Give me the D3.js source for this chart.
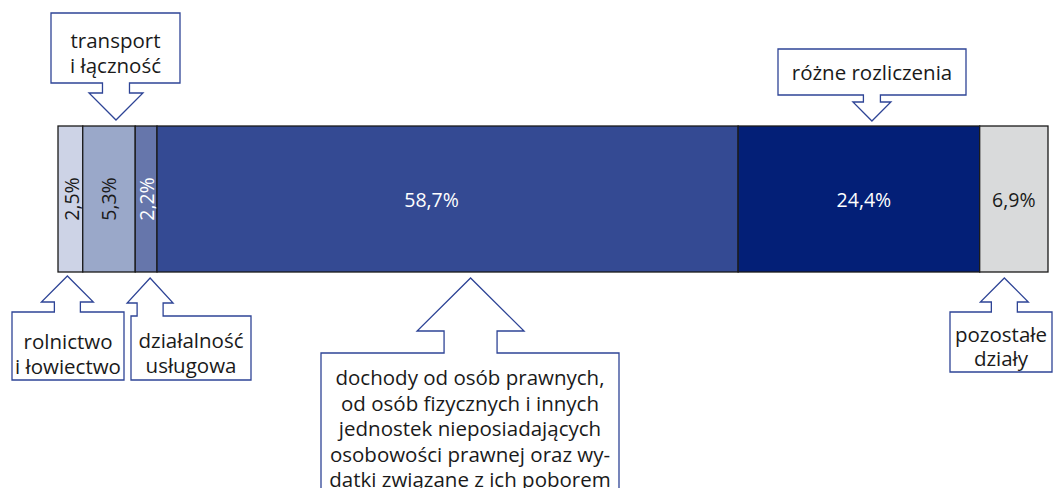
<!DOCTYPE html>
<html>
<head>
  <meta charset="utf-8">
  <title>Struktura dochodów</title>
  <script src="https://d3js.org/d3.v7.min.js"></script>
  <style>
    body { margin: 0; background: #fff; }
    svg { display: block; font-family: "Open Sans", sans-serif; }
    .seg rect { stroke: #1a1a1a; stroke-width: 1.3px; }
    .callout path { fill: #fff; stroke: #2e4496; stroke-width: 1.3px; }
    .callout text { fill: #1a1a1a; font-size: 20.5px; text-anchor: middle; }
    .val { font-size: 19.5px; text-anchor: middle; dominant-baseline: central; }
  </style>
</head>
<body>
  <svg width="1054" height="488"></svg>
  <script>
    // data
    const categories = [
      "rolnictwo i łowiectwo",
      "transport i łączność",
      "działalność usługowa",
      "dochody od osób prawnych, od osób fizycznych i innych jednostek nieposiadających osobowości prawnej oraz wydatki związane z ich poborem",
      "różne rozliczenia",
      "pozostałe działy"
    ];
    const shares = [2.5, 5.3, 2.2, 58.7, 24.4, 6.9];
    const calloutLines = [
      ["rolnictwo", "i łowiectwo"],
      ["transport", "i łączność"],
      ["działalność", "usługowa"],
      ["dochody od osób prawnych,", "od osób fizycznych i innych", "jednostek nieposiadających", "osobowości prawnej oraz wy-", "datki związane z ich poborem"],
      ["różne rozliczenia"],
      ["pozostałe", "działy"]
    ];

    const colors = ["#cdd3e6", "#9aa8c9", "#6676ab", "#344a93", "#031f77", "#d9dadb"];
    const textColors = ["#1a1a1a", "#1a1a1a", "#fff", "#fff", "#fff", "#1a1a1a"];
    const rotated = [true, true, true, false, false, false];
    const labelDx = [1, 0, 0, -16, 5, 0];

    // callout layout: box, arrow tip offset from segment centre, arrow sizes
    const layout = [
      { box: [12, 124, 312, 380], dx: -3,  tipY: 276, headY: 302, hw: 26, sw: 13, y0: 349, lh: 25 },
      { box: [51, 180, 13, 83],   dx: 7,   tipY: 120, headY: 93,  hw: 27, sw: 13.5, y0: 48, lh: 25 },
      { box: [131, 251, 316, 380], dx: 4,  tipY: 278, headY: 303, hw: 23, sw: 13, y0: 348, lh: 25 },
      { box: [321, 619, 353, 500], dx: 23, tipY: 278, headY: 331, hw: 53.5, sw: 26.5, y0: 385, lh: 25.5 },
      { box: [778, 966, 49, 95],  dx: 13,  tipY: 121, headY: 102, hw: 19, sw: 8.5, y0: 80, lh: 25 },
      { box: [950, 1052, 312, 372], dx: -9.5, tipY: 278, headY: 302, hw: 24, sw: 13, y0: 342, lh: 23.5 }
    ];

    const svg = d3.select("svg");
    const pl = d3.formatLocale({ decimal: ",", thousands: " ", grouping: [3], currency: ["", " zł"] });
    const fmt = v => pl.format(".1f")(v) + "%";

    const rows = shares.map((v, i) => ({ i, v, cat: categories[i] }));
    let acc = 0;
    rows.forEach(d => { d.start = acc; acc += d.v; d.end = acc; });

    const x = d3.scaleLinear().domain([0, 100]).range([58, 1048]);
    const y = d3.scaleBand().domain(["2019"]).range([126, 272]).padding(0);

    const seg = svg.append("g").selectAll("g.seg")
      .data(rows).join("g").attr("class", "seg");

    seg.append("rect")
      .attr("x", d => x(d.start))
      .attr("y", y("2019"))
      .attr("width", d => x(d.end) - x(d.start))
      .attr("height", y.bandwidth())
      .attr("fill", d => colors[d.i]);

    seg.append("text")
      .attr("class", "val")
      .attr("transform", d => {
        const cx = (x(d.start) + x(d.end)) / 2 + labelDx[d.i];
        const cy = y("2019") + y.bandwidth() / 2;
        return `translate(${cx},${cy})` + (rotated[d.i] ? " rotate(-90)" : "");
      })
      .attr("fill", d => textColors[d.i])
      .text(d => fmt(d.v));

    // callouts
    const barMid = y("2019") + y.bandwidth() / 2;
    const co = svg.append("g").selectAll("g.callout")
      .data(rows).join("g").attr("class", "callout");

    co.append("path").attr("d", d => {
      const L = layout[d.i];
      const cx = (x(d.start) + x(d.end)) / 2 + L.dx;
      const [x0, x1, by0, by1] = L.box;
      const above = by1 < barMid;
      const near = above ? by1 : by0;
      const far = above ? by0 : by1;
      const p = d3.path();
      p.moveTo(x0, far);
      p.lineTo(x1, far);
      p.lineTo(x1, near);
      p.lineTo(cx + L.sw, near);
      p.lineTo(cx + L.sw, L.headY);
      p.lineTo(cx + L.hw, L.headY);
      p.lineTo(cx, L.tipY);
      p.lineTo(cx - L.hw, L.headY);
      p.lineTo(cx - L.sw, L.headY);
      p.lineTo(cx - L.sw, near);
      p.lineTo(x0, near);
      p.closePath();
      return p.toString();
    });

    co.each(function(d) {
      const L = layout[d.i];
      const cx = (L.box[0] + L.box[1]) / 2;
      d3.select(this).selectAll("text")
        .data(calloutLines[d.i]).join("text")
        .attr("x", cx)
        .attr("y", (t, k) => L.y0 + k * L.lh)
        .text(t => t);
    });
  </script>
</body>
</html>
